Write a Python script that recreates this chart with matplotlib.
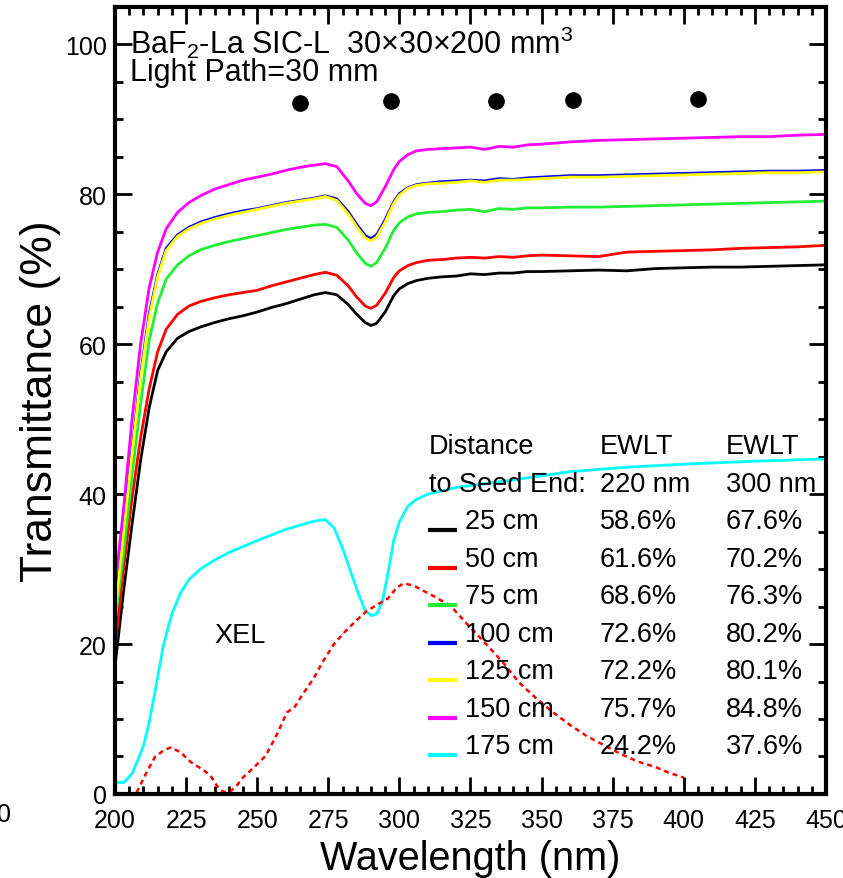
import matplotlib
matplotlib.use('Agg')
import matplotlib.pyplot as plt
from matplotlib.ticker import MultipleLocator

plt.rcParams['font.family'] = ['Liberation Sans', 'DejaVu Sans']
plt.rcParams['mathtext.fontset'] = 'custom'
plt.rcParams['mathtext.rm'] = 'Liberation Sans'
plt.rcParams['mathtext.it'] = 'Liberation Sans'

# transmittance curves
wl = [200, 203, 206, 209, 212, 215, 218, 222, 226, 230, 235, 240, 245, 250, 255,
      260, 265, 270, 274, 278, 282, 285, 288, 290, 292, 295, 298, 300, 303, 306,
      310, 315, 320, 325, 330, 335, 340, 345, 350, 360, 370, 380, 390, 400, 410,
      420, 430, 440, 450]

t25 = [17, 27, 36, 44.5, 51.5, 56.5, 59, 60.8, 61.7, 62.3, 62.9, 63.4, 63.8, 64.3, 64.9,
       65.4, 66, 66.6, 66.9, 66.6, 65.3, 64, 62.9, 62.5, 62.8, 64.3, 66.5, 67.4, 68.1, 68.5,
       68.8, 69, 69.1, 69.4, 69.3, 69.5, 69.5, 69.7, 69.7, 69.8, 69.9, 69.8, 70.1, 70.2, 70.3,
       70.3, 70.4, 70.5, 70.6]
t50 = [19.5, 30, 39.5, 47.5, 54, 59, 62, 64, 65.1, 65.7, 66.2, 66.6, 66.9, 67.2, 67.8,
       68.3, 68.8, 69.3, 69.6, 69.2, 67.8, 66.3, 65.1, 64.8, 65.2, 66.8, 68.9, 69.8, 70.5, 70.9,
       71.2, 71.3, 71.5, 71.6, 71.5, 71.7, 71.6, 71.8, 71.9, 71.8, 71.7, 72.3, 72.4, 72.5, 72.6,
       72.8, 72.9, 73.0, 73.2]
t75 = [23, 32, 42.5, 52, 60.5, 65.5, 68.7, 70.6, 71.8, 72.6, 73.2, 73.7, 74.1, 74.5, 74.9,
       75.3, 75.6, 75.9, 76, 75.6, 73.9, 72.2, 70.8, 70.4, 70.9, 72.8, 75.2, 76.2, 77, 77.4,
       77.6, 77.7, 77.9, 78, 77.7, 78.1, 78.0, 78.2, 78.2, 78.3, 78.3, 78.4, 78.5, 78.6, 78.7,
       78.8, 78.9, 79, 79.1]
t100 = [25, 36, 46, 56, 64, 69.3, 72.8, 74.6, 75.6, 76.3, 76.9, 77.4, 77.8, 78.1, 78.5,
        78.9, 79.2, 79.5, 79.8, 79.4, 77.7, 76, 74.5, 74.1, 74.6, 76.6, 79, 80.1, 80.9, 81.3,
        81.5, 81.7, 81.8, 81.9, 81.8, 82.1, 82, 82.2, 82.3, 82.5, 82.5, 82.6, 82.7, 82.8, 82.9,
        83, 83.1, 83.1, 83.2]
t125 = [24, 35, 45.5, 55.5, 63.5, 69, 72.5, 74.4, 75.4, 76.1, 76.7, 77.2, 77.6, 78.0, 78.4,
        78.8, 79.1, 79.4, 79.7, 79.2, 77.4, 75.7, 74.2, 73.8, 74.3, 76.3, 78.8, 79.9, 80.8, 81.2,
        81.4, 81.5, 81.6, 81.8, 81.6, 81.9, 81.9, 82.0, 82.1, 82.3, 82.3, 82.4, 82.5, 82.6, 82.7,
        82.8, 82.9, 82.9, 83.0]
t150 = [27.5, 38, 50, 60, 67.5, 72.3, 75.4, 77.6, 78.9, 79.8, 80.7, 81.3, 81.9, 82.3, 82.7,
        83.2, 83.6, 83.9, 84.1, 83.7, 81.8, 80.1, 78.8, 78.5, 79, 81, 83.3, 84.4, 85.3, 85.8,
        86, 86.1, 86.2, 86.3, 86.0, 86.4, 86.3, 86.6, 86.7, 87, 87.2, 87.3, 87.4, 87.5, 87.6,
        87.7, 87.7, 87.9, 88]

wl175 = [200, 203, 206, 208, 210, 212, 214, 217, 220, 223, 226, 230, 235, 240, 250, 260,
         270, 274, 277, 280, 283, 286, 288, 290, 292, 294, 296, 298, 300, 303, 306, 310,
         320, 340, 360, 380, 400, 425, 450]
t175 = [1.6, 1.5, 2.7, 4.5, 6.4, 9.5, 13.5, 19.8, 24, 26.8, 28.6, 30, 31.2, 32.2, 33.8, 35.3,
        36.4, 36.6, 35.5, 32.8, 29.5, 26.3, 24.5, 23.8, 24, 25.6, 29.5, 33.8, 36.3, 38.4, 39.3, 40,
        40.9, 41.9, 43, 43.6, 44, 44.4, 44.7]

# X-ray excited luminescence (arb. units)
xel_wl = [207.6, 211, 214, 217, 219.5, 223, 226.5, 231, 233.5, 236, 238, 240.5, 243, 245,
          249, 253, 257, 260.5, 263, 266, 270, 273, 277, 281, 285, 288.5, 292, 296, 299,
          301.5, 305, 308, 312, 318, 324, 331, 337, 342, 348, 354, 360, 366, 372, 378,
          384, 390, 395, 400]
xel = [0.2, 2.8, 4.9, 5.8, 6.2, 5.6, 4.3, 3.2, 2.5, 1.0, 0.3, 0.3, 1.2, 2.2,
       3.6, 5.1, 8, 10.9, 11.5, 13.3, 15.5, 17.6, 20, 21.7, 23.2, 24.4, 25.2, 26.1, 27.5,
       28.1, 27.8, 27.2, 26.4, 25.1, 22.6, 19.8, 17.3, 14.9, 12.8, 10.9, 9.2, 7.7, 6.5, 5.3,
       4.3, 3.6, 2.8, 2.2]

# black dots above the curves
dot_wl = [265, 297, 334, 361, 405]
dot_y = [92.2, 92.4, 92.5, 92.6, 92.7]

labels = ['25 cm', '50 cm', '75 cm', '100 cm', '125 cm', '150 cm', '175 cm']
ewlt220 = ['58.6%', '61.6%', '68.6%', '72.6%', '72.2%', '75.7%', '24.2%']
ewlt300 = ['67.6%', '70.2%', '76.3%', '80.2%', '80.1%', '84.8%', '37.6%']
colors = ['black', '#ff0000', '#22ee33', '#0000ff', '#ffff00', '#ff00ff', '#00ffff']

fig = plt.figure(figsize=(8.43, 8.79), dpi=100)
ax = fig.add_axes([0.1364, 0.0956, 0.8434, 0.8953])

series = [(wl, t25), (wl, t50), (wl, t75), (wl, t100), (wl, t125), (wl, t150), (wl175, t175)]
for (x, y), c in zip(series, colors):
    ax.plot(x, y, color=c, lw=2.0, solid_joinstyle='round')

ax.plot(xel_wl, xel, color='#ff0000', lw=1.8, linestyle=(0, (2, 1.6)))
ax.plot(dot_wl, dot_y, 'o', color='black', ms=11)

ax.set_xlim(200, 450)
ax.set_ylim(0, 105)
ax.xaxis.set_major_locator(MultipleLocator(25))
ax.xaxis.set_minor_locator(MultipleLocator(5))
ax.yaxis.set_major_locator(MultipleLocator(20))
ax.yaxis.set_minor_locator(MultipleLocator(5))
ax.tick_params(which='both', direction='in', top=True, right=True, width=2, labelsize=18)
ax.tick_params(which='major', length=12)
ax.tick_params(which='minor', length=6)
ax.tick_params(axis='x', pad=10)
ax.tick_params(axis='y', pad=6)
for s in ax.spines.values():
    s.set_linewidth(3)

ax.set_xlabel('Wavelength (nm)', fontsize=28.5, labelpad=5)
ax.set_ylabel('Transmittance (%)', fontsize=32, labelpad=3)

ax.text(205.3, 100.3, 'BaF$_2$-La SIC-L  30\u00d730\u00d7200 mm$^3$', fontsize=22, va='center')
ax.text(205.3, 96.3, 'Light Path=30 mm', fontsize=22, va='center')
ax.text(244, 21.2, 'XEL', fontsize=19.5, va='center', ha='center')

# table-style legend
fs = 19.5
ax.text(310.4, 46.4, 'Distance', fontsize=fs, va='center')
ax.text(310.4, 41.4, 'to Seed End:', fontsize=fs, va='center')
ax.text(370.5, 46.4, 'EWLT', fontsize=fs, va='center')
ax.text(370.5, 41.4, '220 nm', fontsize=fs, va='center')
ax.text(414.8, 46.4, 'EWLT', fontsize=fs, va='center')
ax.text(414.8, 41.4, '300 nm', fontsize=fs, va='center')
for i, (lab, a, b, c) in enumerate(zip(labels, ewlt220, ewlt300, colors)):
    yy = 36.4 - 5 * i
    ax.plot([310.2, 320.3], [yy - 1.2, yy - 1.2], color=c, lw=3, solid_capstyle='butt')
    ax.text(323, yy, lab, fontsize=fs, va='center')
    ax.text(370.5, yy, a, fontsize=fs, va='center')
    ax.text(414.8, yy, b, fontsize=fs, va='center')

fig.text(-0.003, 1 - 815 / 879, '0', fontsize=18, va='center', ha='left')

fig.savefig('out.png', dpi=100)
